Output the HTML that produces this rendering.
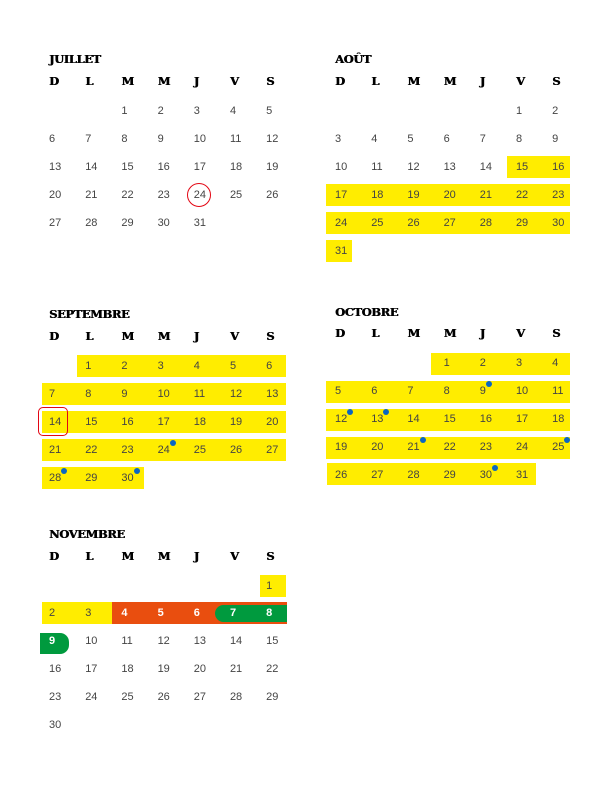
<!DOCTYPE html>
<html><head><meta charset="utf-8"><style>
*{margin:0;padding:0;box-sizing:border-box}
body{width:612px;height:792px;background:#fff;position:relative;overflow:hidden;font-family:"Liberation Sans","DejaVu Sans",sans-serif}
.t{position:absolute;font-family:"DejaVu Serif","Liberation Serif",serif;font-weight:bold;font-size:11.5px;color:#000;letter-spacing:-0.4px;text-shadow:0.5px 0 0 #000}
.r{position:absolute;height:14px;line-height:14px;display:flex;font-size:11px;color:#444}
.r span{width:36.2px;flex:none;white-space:nowrap}
.h{color:#000;font-family:"DejaVu Serif","Liberation Serif",serif;font-weight:bold;font-size:11.5px;text-shadow:0.5px 0 0 #000;margin-top:1px}
.y{position:absolute;background:#ffed00;height:22px}
i{display:inline-block;width:6px;height:6px;border-radius:50%;background:#0a66c2;vertical-align:top;margin-top:-3px;margin-left:0}
.w{color:#fff;font-weight:bold}
</style></head><body>

<!-- JUILLET -->
<div class="t" style="left:49px;top:52px">JUILLET</div>
<div class="r h" style="left:49px;top:73px"><span>D</span><span>L</span><span>M</span><span>M</span><span>J</span><span>V</span><span>S</span></div>
<div class="r" style="left:49px;top:104px"><span></span><span></span><span>1</span><span>2</span><span>3</span><span>4</span><span>5</span></div>
<div class="r" style="left:49px;top:132px"><span>6</span><span>7</span><span>8</span><span>9</span><span>10</span><span>11</span><span>12</span></div>
<div class="r" style="left:49px;top:160px"><span>13</span><span>14</span><span>15</span><span>16</span><span>17</span><span>18</span><span>19</span></div>
<div class="r" style="left:49px;top:188px"><span>20</span><span>21</span><span>22</span><span>23</span><span>24</span><span>25</span><span>26</span></div>
<div class="r" style="left:49px;top:216px"><span>27</span><span>28</span><span>29</span><span>30</span><span>31</span></div>
<div style="position:absolute;left:187px;top:183px;width:24px;height:24px;border:1.3px solid #e30613;border-radius:50%"></div>

<!-- AOUT -->
<div class="y" style="left:507px;top:156px;width:63px"></div>
<div class="y" style="left:326px;top:184px;width:244px"></div>
<div class="y" style="left:326px;top:212px;width:244px"></div>
<div class="y" style="left:326px;top:240px;width:26px"></div>
<div class="t" style="left:335px;top:52px">AOÛT</div>
<div class="r h" style="left:335px;top:73px"><span>D</span><span>L</span><span>M</span><span>M</span><span>J</span><span>V</span><span>S</span></div>
<div class="r" style="left:335px;top:104px"><span></span><span></span><span></span><span></span><span></span><span>1</span><span>2</span></div>
<div class="r" style="left:335px;top:132px"><span>3</span><span>4</span><span>5</span><span>6</span><span>7</span><span>8</span><span>9</span></div>
<div class="r" style="left:335px;top:160px"><span>10</span><span>11</span><span>12</span><span>13</span><span>14</span><span>15</span><span>16</span></div>
<div class="r" style="left:335px;top:188px"><span>17</span><span>18</span><span>19</span><span>20</span><span>21</span><span>22</span><span>23</span></div>
<div class="r" style="left:335px;top:216px"><span>24</span><span>25</span><span>26</span><span>27</span><span>28</span><span>29</span><span>30</span></div>
<div class="r" style="left:335px;top:244px"><span>31</span></div>

<!-- SEPTEMBRE -->
<div class="y" style="left:77px;top:355px;width:209px"></div>
<div class="y" style="left:42px;top:383px;width:244px"></div>
<div class="y" style="left:42px;top:411px;width:244px"></div>
<div class="y" style="left:42px;top:439px;width:244px"></div>
<div class="y" style="left:42px;top:467px;width:102px"></div>
<div class="t" style="left:49px;top:307px">SEPTEMBRE</div>
<div class="r h" style="left:49px;top:328px"><span>D</span><span>L</span><span>M</span><span>M</span><span>J</span><span>V</span><span>S</span></div>
<div class="r" style="left:49px;top:359px"><span></span><span>1</span><span>2</span><span>3</span><span>4</span><span>5</span><span>6</span></div>
<div class="r" style="left:49px;top:387px"><span>7</span><span>8</span><span>9</span><span>10</span><span>11</span><span>12</span><span>13</span></div>
<div class="r" style="left:49px;top:415px"><span>14</span><span>15</span><span>16</span><span>17</span><span>18</span><span>19</span><span>20</span></div>
<div class="r" style="left:49px;top:443px"><span>21</span><span>22</span><span>23</span><span>24<i></i></span><span>25</span><span>26</span><span>27</span></div>
<div class="r" style="left:49px;top:471px"><span>28<i></i></span><span>29</span><span>30<i></i></span></div>
<div style="position:absolute;left:38px;top:407px;width:30px;height:29px;border:1.3px solid #e30613;border-radius:5px"></div>

<!-- OCTOBRE -->
<div class="y" style="left:431px;top:353px;width:139px"></div>
<div class="y" style="left:326px;top:381px;width:244px"></div>
<div class="y" style="left:326px;top:409px;width:244px"></div>
<div class="y" style="left:326px;top:437px;width:244px"></div>
<div class="y" style="left:327px;top:463px;width:209px"></div>
<div class="t" style="left:335px;top:305px">OCTOBRE</div>
<div class="r h" style="left:335px;top:325px"><span>D</span><span>L</span><span>M</span><span>M</span><span>J</span><span>V</span><span>S</span></div>
<div class="r" style="left:335px;top:356px"><span></span><span></span><span></span><span>1</span><span>2</span><span>3</span><span>4</span></div>
<div class="r" style="left:335px;top:384px"><span>5</span><span>6</span><span>7</span><span>8</span><span>9<i></i></span><span>10</span><span>11</span></div>
<div class="r" style="left:335px;top:412px"><span>12<i></i></span><span>13<i></i></span><span>14</span><span>15</span><span>16</span><span>17</span><span>18</span></div>
<div class="r" style="left:335px;top:440px"><span>19</span><span>20</span><span>21<i></i></span><span>22</span><span>23</span><span>24</span><span>25<i></i></span></div>
<div class="r" style="left:335px;top:468px"><span>26</span><span>27</span><span>28</span><span>29</span><span>30<i></i></span><span>31</span></div>

<!-- NOVEMBRE -->
<div class="y" style="left:260px;top:575px;width:26px"></div>
<div class="y" style="left:42px;top:602px;width:70px"></div>
<div style="position:absolute;left:112px;top:602px;width:175px;height:22px;background:#e94e0f"></div>
<div style="position:absolute;left:215px;top:605px;width:72px;height:17px;background:#009a3e;border-radius:9px 0 0 9px"></div>
<div style="position:absolute;left:40px;top:633px;width:29px;height:21px;background:#009a3e;border-radius:0 9px 9px 0"></div>
<div class="t" style="left:49px;top:527px">NOVEMBRE</div>
<div class="r h" style="left:49px;top:548px"><span>D</span><span>L</span><span>M</span><span>M</span><span>J</span><span>V</span><span>S</span></div>
<div class="r" style="left:49px;top:579px"><span></span><span></span><span></span><span></span><span></span><span></span><span>1</span></div>
<div class="r" style="left:49px;top:606px"><span>2</span><span>3</span><span class="w">4</span><span class="w">5</span><span class="w">6</span><span class="w">7</span><span class="w">8</span></div>
<div class="r" style="left:49px;top:634px"><span class="w">9</span><span>10</span><span>11</span><span>12</span><span>13</span><span>14</span><span>15</span></div>
<div class="r" style="left:49px;top:662px"><span>16</span><span>17</span><span>18</span><span>19</span><span>20</span><span>21</span><span>22</span></div>
<div class="r" style="left:49px;top:690px"><span>23</span><span>24</span><span>25</span><span>26</span><span>27</span><span>28</span><span>29</span></div>
<div class="r" style="left:49px;top:718px"><span>30</span></div>
</body></html>
